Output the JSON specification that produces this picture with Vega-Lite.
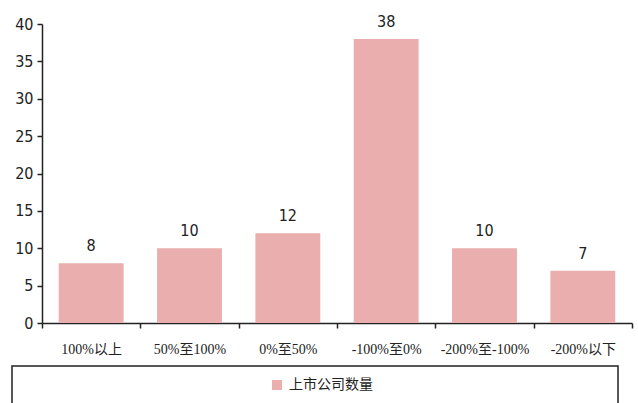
{
  "$schema": "https://vega.github.io/schema/vega-lite/v6.json",
  "width": 590,
  "height": 299,
  "autosize": "none",
  "padding": {"left": 42, "top": 24, "right": 6, "bottom": 80},
  "background": "white",
  "data": {
    "values": [
      {"range": "100%以上", "count": 8, "series": "上市公司数量"},
      {"range": "50%至100%", "count": 10, "series": "上市公司数量"},
      {"range": "0%至50%", "count": 12, "series": "上市公司数量"},
      {"range": "-100%至0%", "count": 38, "series": "上市公司数量"},
      {"range": "-200%至-100%", "count": 10, "series": "上市公司数量"},
      {"range": "-200%以下", "count": 7, "series": "上市公司数量"}
    ]
  },
  "encoding": {
    "x": {
      "field": "range",
      "type": "nominal",
      "sort": null,
      "scale": {"paddingInner": 0, "paddingOuter": 0},
      "axis": {
        "title": null,
        "labelAngle": 0,
        "labelFont": "Liberation Serif, Noto Sans CJK SC",
        "labelFontSize": 14,
        "labelColor": "#222",
        "labelPadding": 14,
        "tickBand": "extent",
        "tickSize": 5,
        "tickColor": "#222",
        "domainColor": "#222",
        "domainWidth": 1.5,
        "tickWidth": 1.5,
        "grid": false
      }
    },
    "y": {
      "field": "count",
      "type": "quantitative",
      "scale": {"domain": [0, 40], "nice": false},
      "axis": {
        "title": null,
        "values": [0, 5, 10, 15, 20, 25, 30, 35, 40],
        "labelFont": "DejaVu Sans Condensed, Liberation Sans Narrow, Liberation Sans",
        "labelFontSize": 16,
        "labelColor": "#222",
        "labelPadding": 4,
        "tickSize": 5,
        "tickColor": "#222",
        "tickWidth": 1.5,
        "domainColor": "#222",
        "domainWidth": 1.5,
        "grid": false
      }
    }
  },
  "layer": [
    {
      "mark": {"type": "bar", "width": {"band": 0.66}},
      "encoding": {
        "color": {
          "field": "series",
          "type": "nominal",
          "scale": {"range": ["#E9AEAD"]},
          "legend": {
            "title": " ",
            "titleOrient": "right",
            "titlePadding": 233,
            "orient": "none",
            "legendX": -30,
            "legendY": 342,
            "padding": 12,
            "strokeColor": "#222",
            "symbolType": "square",
            "symbolSize": 100,
            "symbolStrokeWidth": 0,
            "symbolOffset": 246,
            "labelOffset": 5,
            "labelFont": "Noto Sans CJK SC",
            "labelFontSize": 14,
            "labelColor": "#222"
          }
        }
      }
    },
    {
      "mark": {
        "type": "text",
        "baseline": "alphabetic",
        "dy": -12,
        "font": "DejaVu Sans Condensed, Liberation Sans Narrow, Liberation Sans",
        "fontSize": 16,
        "color": "#222"
      },
      "encoding": {"text": {"field": "count", "type": "quantitative"}}
    }
  ],
  "config": {
    "view": {"stroke": null},
    "legend": {"strokeWidth": 1.5}
  }
}
